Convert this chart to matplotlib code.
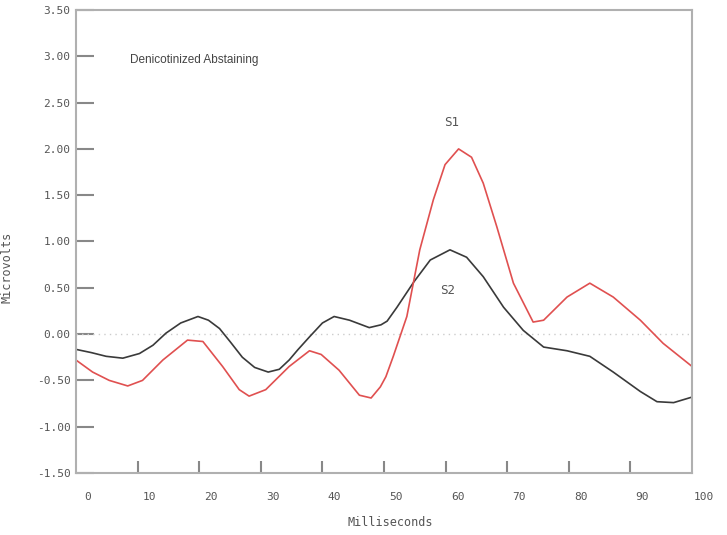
import numpy as np
import matplotlib
matplotlib.use("Agg")
import matplotlib.pyplot as plt
from matplotlib.transforms import ScaledTranslation

# S1 (red) and S2 (black) waveforms
s1_ms = [0, 2.7, 5.4, 8.4, 10.8, 14.1, 18.1, 20.6, 23.8, 26.5, 28.1, 30.8,
         34.6, 37.9, 39.8, 42.7, 46.0, 47.9, 49.4, 50.3, 51.5, 53.7, 55.8,
         58.0, 59.9, 62.1, 64.2, 66.1, 68.3, 71.0, 74.2, 75.9, 79.7, 83.4,
         87.2, 91.6, 95.3, 100]
s1_uv = [-0.28, -0.41, -0.50, -0.56, -0.50, -0.28, -0.065, -0.08, -0.35,
         -0.60, -0.67, -0.60, -0.35, -0.18, -0.22, -0.39, -0.66, -0.69,
         -0.57, -0.46, -0.24, 0.19, 0.91, 1.45, 1.83, 2.00, 1.91, 1.63,
         1.16, 0.55, 0.13, 0.15, 0.40, 0.55, 0.40, 0.15, -0.10, -0.35]

s2_ms = [0, 2.5, 4.9, 7.6, 10.3, 12.5, 14.6, 17, 19.8, 21.5, 23.3, 25, 27.0,
         29, 31.2, 33, 34.6, 36, 37.9, 40, 41.9, 44.4, 47.6, 49.5, 50.5,
         52.1, 54.8, 57.5, 60.7, 63.4, 66.1, 69.4, 72.6, 75.9, 79.7, 83.4,
         87.2, 91.6, 94.3, 97, 100]
s2_uv = [-0.165, -0.2, -0.24, -0.26, -0.21, -0.12, 0.01, 0.12, 0.19, 0.15,
         0.06, -0.08, -0.25, -0.36, -0.41, -0.38, -0.28, -0.17, -0.03, 0.12,
         0.19, 0.15, 0.07, 0.10, 0.14, 0.29, 0.56, 0.80, 0.91, 0.83, 0.62,
         0.29, 0.04, -0.14, -0.18, -0.24, -0.41, -0.62, -0.73, -0.74, -0.68]

x_ticks = [0, 10, 20, 30, 40, 50, 60, 70, 80, 90, 100]
y_ticks = [-1.5, -1.0, -0.5, 0.0, 0.5, 1.0, 1.5, 2.0, 2.5, 3.0, 3.5]

mono = "DejaVu Sans Mono"
txt_col = "#555555"

fig = plt.figure(figsize=(7.27, 5.35), dpi=100)
ax = fig.add_axes([0.1045, 0.1159, 0.8475, 0.8654])
ax.set_xlim(0, 100)
ax.set_ylim(-1.5, 3.5)

for side in ax.spines.values():
    side.set_color("#b0b0b0")
    side.set_linewidth(1.5)

# zero reference line
ax.axhline(0, color="#cccccc", lw=1, linestyle=(0, (1, 3)))

ax.plot(s2_ms, s2_uv, color="#3a3a3a", lw=1.2, solid_joinstyle="round")
ax.plot(s1_ms, s1_uv, color="#e05050", lw=1.2, solid_joinstyle="round")

# x tick marks only inside the box, labels drawn separately (shifted right)
ax.set_xticks(x_ticks[1:-1])
ax.set_xticklabels([])
ax.tick_params(axis="x", direction="in", length=9, width=1.5, color="#888888")
shift = ScaledTranslation(12 / 100, 0, fig.dpi_scale_trans)
for t in x_ticks:
    ax.text(t, -0.04, str(t), transform=ax.get_xaxis_transform() + shift,
            ha="center", va="top", fontsize=8, family=mono, color=txt_col)

ax.set_yticks(y_ticks)
ax.set_yticklabels([f"{v:.2f}" for v in y_ticks], family=mono, fontsize=8,
                   color=txt_col)
ax.tick_params(axis="y", direction="in", length=13, width=1.5, color="#888888",
               pad=4)

ax.text(8.8, 2.96, "Denicotinized Abstaining", fontsize=8.5,
        family="Liberation Sans", color="#444444", ha="left", va="center")
ax.text(61.0, 2.28, "S1", fontsize=9, family=mono, color=txt_col,
        ha="center", va="center")
ax.text(60.4, 0.475, "S2", fontsize=9, family=mono, color=txt_col,
        ha="center", va="center")

fig.text(390 / 727, 1 - 523 / 535, "Milliseconds", fontsize=8.5, family=mono,
         color=txt_col, ha="center", va="center")
fig.text(7 / 727, 1 - 267 / 535, "Microvolts", fontsize=8.5, family=mono,
         color=txt_col, ha="center", va="center", rotation=90)

fig.savefig("out.png", dpi=100)
